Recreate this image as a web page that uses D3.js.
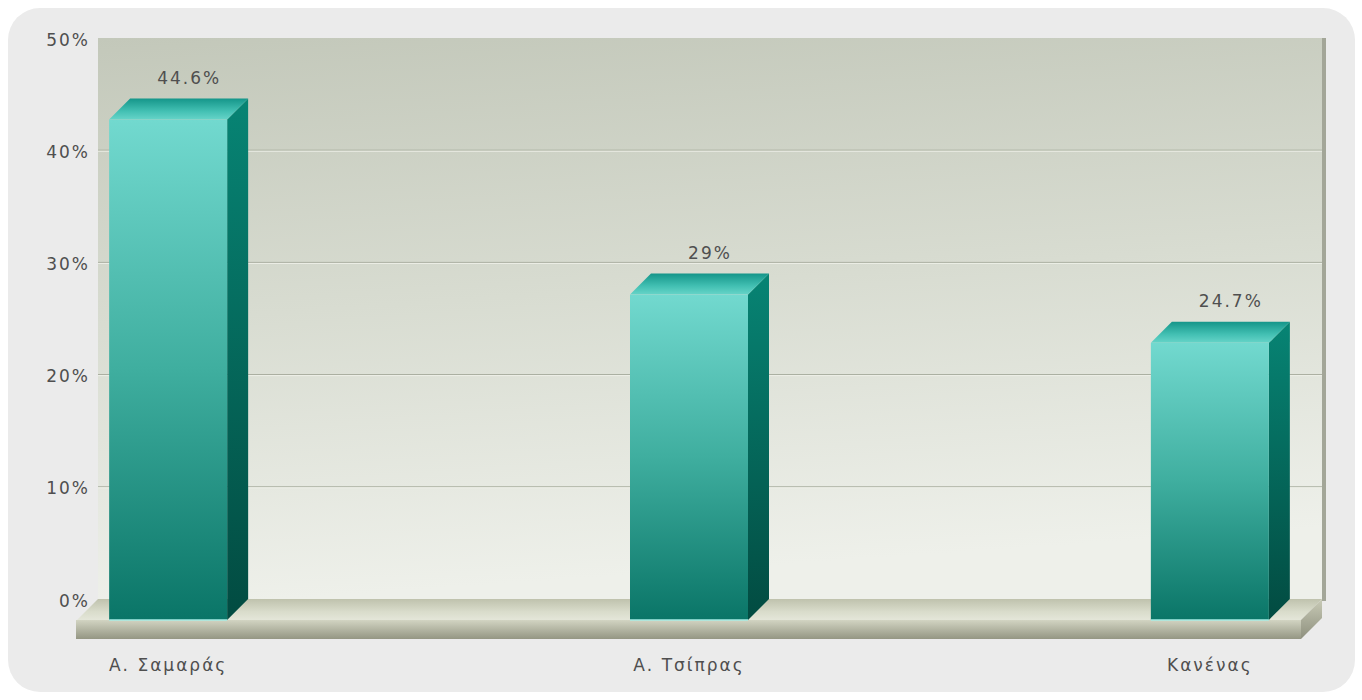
<!DOCTYPE html>
<html><head><meta charset="utf-8">
<script src="https://cdn.jsdelivr.net/npm/d3@7"></script>
<style>body{margin:0;background:#fff;} text{font-family:"DejaVu Sans",Verdana,sans-serif;}</style>
</head><body><svg id="c" width="1362" height="700"></svg>
<script>
const categories = ["Α. Σαμαράς", "Α. Τσίπρας", "Κανένας"];
const values = [44.6, 29, 24.7];
const valueLabels = ["44.6%", "29%", "24.7%"];
const yTicks = [0, 10, 20, 30, 40, 50];

const svg = d3.select("#c");
const defs = svg.append("defs");
function grad(id, stops, x2, y2){
  const g = defs.append("linearGradient").attr("id", id).attr("x1",0).attr("y1",0).attr("x2",x2).attr("y2",y2);
  stops.forEach(s => g.append("stop").attr("offset", s[0]).attr("stop-color", s[1]));
}
grad("wall", [[0,"#c3c8ba"],[0.5,"#d8dcd1"],[1,"#eef0ea"]], 0.15, 1);
grad("front", [[0,"#72d9cf"],[0.5,"#3fae9f"],[1,"#0a7567"]], 0, 1);
grad("side", [[0,"#078474"],[1,"#024b41"]], 0, 1);
grad("topFace", [[0,"#15968a"],[0.6,"#43c0b3"],[1,"#66d4c8"]], 0, 1);
grad("floorTop", [[0,"#bfc2ad"],[0.6,"#d9dccb"],[1,"#e4e6d9"]], 0, 1);
grad("floorFront", [[0,"#d2d4c2"],[1,"#949683"]], 0, 1);
grad("floorSide", [[0,"#c8cab6"],[1,"#8e907e"]], 0, 1);

const D = 21; // 3D depth
const pLeft = 98, pRight = 1322, pTop = 38, pBase = 599;
const y = d3.scaleLinear().domain([0, 50]).range([pBase, pTop]);
const x = d3.scalePoint().domain(categories).range([pLeft, pRight]).padding(0.175);
const bw = 118;
const FS = 17, LS = "2px", TXT = "#4f4f4f";

// outer card
svg.append("rect").attr("x",8).attr("y",8).attr("width",1347).attr("height",684).attr("rx",32).attr("fill","#ebebeb");

// back wall
svg.append("rect").attr("x",pLeft).attr("y",pTop).attr("width",pRight-pLeft).attr("height",pBase-pTop).attr("fill","url(#wall)");
svg.append("rect").attr("x",pRight).attr("y",pTop).attr("width",4).attr("height",pBase-pTop+2).attr("fill","#a3a698");

// gridlines
svg.append("g").selectAll("g").data(yTicks.filter(t => t > 0 && t < 50)).join("g").each(function(t){
  const g = d3.select(this);
  g.append("line").attr("x1",pLeft).attr("x2",pRight).attr("y1",y(t)).attr("y2",y(t)).attr("stroke","#a6ab9c").attr("stroke-width",1);
  g.append("line").attr("x1",pLeft).attr("x2",pRight).attr("y1",y(t)+1).attr("y2",y(t)+1).attr("stroke","#eef0e8").attr("stroke-width",1);
});

// y axis labels
const yAxis = d3.axisLeft(y).tickValues(yTicks).tickFormat(d => d + "%").tickSize(0).tickPadding(8);
const ya = svg.append("g").attr("transform", `translate(${pLeft},0)`).call(yAxis);
ya.select(".domain").remove();
ya.selectAll("text").attr("font-size",FS).attr("fill",TXT).attr("letter-spacing",LS).attr("dy","0.42em").style("font-family","'DejaVu Sans',Verdana,sans-serif");

// floor
svg.append("polygon").attr("points", [[pLeft,pBase],[pRight,pBase],[pRight-D,pBase+D],[pLeft-D,pBase+D]].join(" ")).attr("fill","url(#floorTop)");
svg.append("rect").attr("x",pLeft-D-1).attr("y",pBase+D).attr("width",pRight-pLeft+1).attr("height",19).attr("fill","url(#floorFront)");
svg.append("polygon").attr("points", [[pRight-D,pBase+D],[pRight,pBase],[pRight,pBase+19],[pRight-D,pBase+D+19]].join(" ")).attr("fill","url(#floorSide)");

// bars
const bars = svg.append("g").selectAll("g").data(values).join("g");
bars.each(function(v, i){
  const g = d3.select(this);
  const cx = x(categories[i]);
  const bx = cx - bw/2; // back face left
  const yt = y(v);
  g.append("polygon").attr("points", [[bx+bw,yt],[bx+bw,pBase],[bx+bw-D,pBase+D],[bx+bw-D,yt+D]].join(" ")).attr("fill","url(#side)");
  g.append("polygon").attr("points", [[bx,yt],[bx+bw,yt],[bx+bw-D,yt+D],[bx-D,yt+D]].join(" ")).attr("fill","url(#topFace)");
  g.append("rect").attr("x",bx-D).attr("y",yt+D).attr("width",bw).attr("height",pBase-yt).attr("fill","url(#front)");
  g.append("line").attr("x1",bx-D).attr("x2",bx-D+bw).attr("y1",pBase+D).attr("y2",pBase+D).attr("stroke","#a6ece4").attr("stroke-width",1.5);
  g.append("text").attr("x",cx).attr("y",yt-15).attr("text-anchor","middle").attr("font-size",FS).attr("letter-spacing",LS).attr("fill",TXT).text(valueLabels[i]);
});

// category labels
svg.append("g").selectAll("text").data(categories).join("text")
  .attr("x", d => x(d) - D).attr("y", 671).attr("text-anchor","middle")
  .attr("font-size",FS).attr("letter-spacing",LS).attr("fill",TXT).text(d => d);
</script></body></html>
